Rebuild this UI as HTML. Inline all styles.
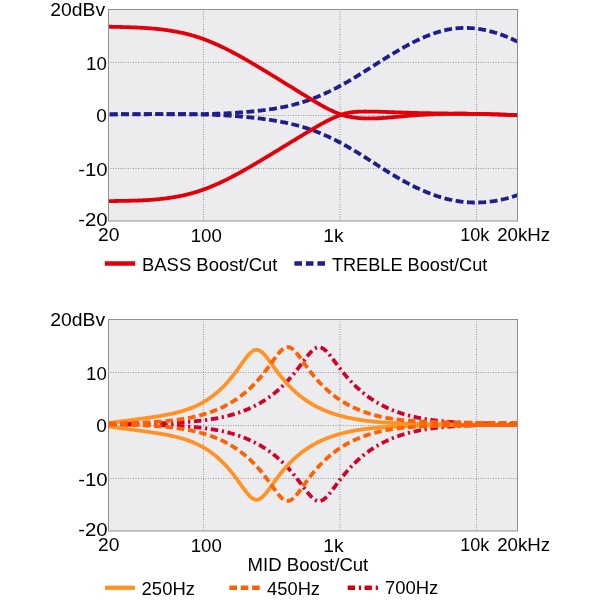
<!DOCTYPE html>
<html><head><meta charset="utf-8"><style>
html,body{margin:0;padding:0;background:#fff;}
svg{display:block;will-change:transform;}
text{font-family:"Liberation Sans",sans-serif;font-size:19px;fill:#000;}
.g{stroke:#9a9a9a;stroke-width:1;stroke-dasharray:1 1.5;stroke-dashoffset:1;}
.c{fill:none;stroke-width:3.8;stroke-linejoin:round;}
</style></head><body>
<svg width="600" height="600" viewBox="0 0 600 600">
<g transform="translate(0,0)">
<rect x="108.5" y="9.5" width="409" height="211.5" fill="#ececef"/>
<line x1="109" y1="62.5" x2="517" y2="62.5" class="g"/>
<line x1="109" y1="115.5" x2="517" y2="115.5" class="g"/>
<line x1="109" y1="168.5" x2="517" y2="168.5" class="g"/>
<line x1="203.5" y1="10" x2="203.5" y2="220.5" class="g"/>
<line x1="340" y1="10" x2="340" y2="220.5" class="g"/>
<line x1="476.5" y1="10" x2="476.5" y2="220.5" class="g"/>
<path d="M108.5,114.37 L109.5,114.35 L110.5,114.33 L111.5,114.31 L112.5,114.29 L113.5,114.28 L114.5,114.26 L115.5,114.24 L116.5,114.23 L117.5,114.22 L118.5,114.2 L119.5,114.19 L120.5,114.18 L121.5,114.17 L122.5,114.16 L123.5,114.15 L124.5,114.15 L125.5,114.14 L126.5,114.13 L127.5,114.13 L128.5,114.12 L129.5,114.12 L130.5,114.12 L131.5,114.11 L132.5,114.11 L133.5,114.11 L134.5,114.11 L135.5,114.11 L136.5,114.11 L137.5,114.11 L138.5,114.11 L139.5,114.11 L140.5,114.12 L141.5,114.12 L142.5,114.12 L143.5,114.12 L144.5,114.13 L145.5,114.13 L146.5,114.14 L147.5,114.14 L148.5,114.14 L149.5,114.15 L150.5,114.15 L151.5,114.16 L152.5,114.16 L153.5,114.17 L154.5,114.18 L155.5,114.18 L156.5,114.19 L157.5,114.19 L158.5,114.2 L159.5,114.2 L160.5,114.21 L161.5,114.21 L162.5,114.22 L163.5,114.23 L164.5,114.23 L165.5,114.24 L166.5,114.24 L167.5,114.24 L168.5,114.25 L169.5,114.25 L170.5,114.26 L171.5,114.26 L172.5,114.26 L173.5,114.27 L174.5,114.27 L175.5,114.27 L176.5,114.27 L177.5,114.27 L178.5,114.27 L179.5,114.28 L180.5,114.27 L181.5,114.27 L182.5,114.27 L183.5,114.27 L184.5,114.27 L185.5,114.27 L186.5,114.26 L187.5,114.26 L188.5,114.25 L189.5,114.25 L190.5,114.24 L191.5,114.23 L192.5,114.22 L193.5,114.22 L194.5,114.21 L195.5,114.19 L196.5,114.18 L197.5,114.17 L198.5,114.16 L199.5,114.14 L200.5,114.13 L201.5,114.11 L202.5,114.09 L203.5,114.08 L204.5,114.06 L205.5,114.04 L206.5,114.01 L207.5,113.99 L208.5,113.97 L209.5,113.94 L210.5,113.92 L211.5,113.89 L212.5,113.86 L213.5,113.83 L214.5,113.8 L215.5,113.77 L216.5,113.73 L217.5,113.7 L218.5,113.66 L219.5,113.62 L220.5,113.58 L221.5,113.54 L222.5,113.5 L223.5,113.45 L224.5,113.41 L225.5,113.36 L226.5,113.31 L227.5,113.26 L228.5,113.21 L229.5,113.15 L230.5,113.1 L231.5,113.04 L232.5,112.98 L233.5,112.92 L234.5,112.86 L235.5,112.8 L236.5,112.73 L237.5,112.66 L238.5,112.59 L239.5,112.52 L240.5,112.45 L241.5,112.37 L242.5,112.3 L243.5,112.22 L244.5,112.13 L245.5,112.05 L246.5,111.97 L247.5,111.88 L248.5,111.79 L249.5,111.7 L250.5,111.6 L251.5,111.51 L252.5,111.41 L253.5,111.31 L254.5,111.21 L255.5,111.1 L256.5,111 L257.5,110.89 L258.5,110.77 L259.5,110.66 L260.5,110.54 L261.5,110.42 L262.5,110.3 L263.5,110.18 L264.5,110.05 L265.5,109.92 L266.5,109.79 L267.5,109.66 L268.5,109.52 L269.5,109.38 L270.5,109.23 L271.5,109.08 L272.5,108.93 L273.5,108.78 L274.5,108.62 L275.5,108.46 L276.5,108.29 L277.5,108.12 L278.5,107.94 L279.5,107.76 L280.5,107.58 L281.5,107.39 L282.5,107.2 L283.5,107 L284.5,106.8 L285.5,106.59 L286.5,106.37 L287.5,106.16 L288.5,105.93 L289.5,105.7 L290.5,105.47 L291.5,105.23 L292.5,104.98 L293.5,104.73 L294.5,104.47 L295.5,104.21 L296.5,103.94 L297.5,103.66 L298.5,103.38 L299.5,103.09 L300.5,102.79 L301.5,102.49 L302.5,102.18 L303.5,101.86 L304.5,101.54 L305.5,101.21 L306.5,100.87 L307.5,100.53 L308.5,100.18 L309.5,99.82 L310.5,99.46 L311.5,99.09 L312.5,98.71 L313.5,98.33 L314.5,97.94 L315.5,97.55 L316.5,97.15 L317.5,96.74 L318.5,96.33 L319.5,95.91 L320.5,95.48 L321.5,95.05 L322.5,94.61 L323.5,94.17 L324.5,93.72 L325.5,93.26 L326.5,92.8 L327.5,92.33 L328.5,91.86 L329.5,91.38 L330.5,90.89 L331.5,90.4 L332.5,89.9 L333.5,89.4 L334.5,88.89 L335.5,88.37 L336.5,87.85 L337.5,87.33 L338.5,86.79 L339.5,86.26 L340.5,85.71 L341.5,85.17 L342.5,84.61 L343.5,84.05 L344.5,83.49 L345.5,82.92 L346.5,82.35 L347.5,81.77 L348.5,81.19 L349.5,80.61 L350.5,80.02 L351.5,79.42 L352.5,78.83 L353.5,78.23 L354.5,77.62 L355.5,77.02 L356.5,76.41 L357.5,75.8 L358.5,75.18 L359.5,74.57 L360.5,73.95 L361.5,73.33 L362.5,72.7 L363.5,72.08 L364.5,71.45 L365.5,70.82 L366.5,70.19 L367.5,69.56 L368.5,68.93 L369.5,68.3 L370.5,67.67 L371.5,67.03 L372.5,66.4 L373.5,65.77 L374.5,65.13 L375.5,64.5 L376.5,63.87 L377.5,63.23 L378.5,62.6 L379.5,61.97 L380.5,61.34 L381.5,60.71 L382.5,60.08 L383.5,59.45 L384.5,58.83 L385.5,58.21 L386.5,57.59 L387.5,56.97 L388.5,56.35 L389.5,55.74 L390.5,55.12 L391.5,54.51 L392.5,53.91 L393.5,53.31 L394.5,52.71 L395.5,52.11 L396.5,51.52 L397.5,50.93 L398.5,50.34 L399.5,49.76 L400.5,49.18 L401.5,48.61 L402.5,48.04 L403.5,47.48 L404.5,46.92 L405.5,46.37 L406.5,45.82 L407.5,45.28 L408.5,44.74 L409.5,44.21 L410.5,43.68 L411.5,43.16 L412.5,42.65 L413.5,42.14 L414.5,41.64 L415.5,41.14 L416.5,40.66 L417.5,40.18 L418.5,39.7 L419.5,39.23 L420.5,38.77 L421.5,38.32 L422.5,37.88 L423.5,37.44 L424.5,37.01 L425.5,36.59 L426.5,36.17 L427.5,35.77 L428.5,35.37 L429.5,34.99 L430.5,34.61 L431.5,34.24 L432.5,33.88 L433.5,33.52 L434.5,33.18 L435.5,32.85 L436.5,32.53 L437.5,32.21 L438.5,31.91 L439.5,31.62 L440.5,31.33 L441.5,31.06 L442.5,30.8 L443.5,30.55 L444.5,30.31 L445.5,30.08 L446.5,29.86 L447.5,29.65 L448.5,29.46 L449.5,29.27 L450.5,29.1 L451.5,28.94 L452.5,28.8 L453.5,28.66 L454.5,28.53 L455.5,28.42 L456.5,28.32 L457.5,28.23 L458.5,28.15 L459.5,28.08 L460.5,28.03 L461.5,27.98 L462.5,27.95 L463.5,27.93 L464.5,27.92 L465.5,27.92 L466.5,27.93 L467.5,27.95 L468.5,27.98 L469.5,28.03 L470.5,28.08 L471.5,28.14 L472.5,28.22 L473.5,28.31 L474.5,28.4 L475.5,28.51 L476.5,28.63 L477.5,28.75 L478.5,28.89 L479.5,29.04 L480.5,29.2 L481.5,29.37 L482.5,29.54 L483.5,29.73 L484.5,29.93 L485.5,30.14 L486.5,30.36 L487.5,30.58 L488.5,30.82 L489.5,31.07 L490.5,31.33 L491.5,31.59 L492.5,31.87 L493.5,32.15 L494.5,32.45 L495.5,32.75 L496.5,33.06 L497.5,33.38 L498.5,33.71 L499.5,34.05 L500.5,34.4 L501.5,34.76 L502.5,35.13 L503.5,35.5 L504.5,35.89 L505.5,36.28 L506.5,36.68 L507.5,37.09 L508.5,37.51 L509.5,37.94 L510.5,38.37 L511.5,38.81 L512.5,39.27 L513.5,39.73 L514.5,40.19 L515.5,40.67 L516.5,41.15 L517.5,41.65" class="c" stroke="#1e1e8c" stroke-dasharray="7.9 3.5" stroke-dashoffset="10.2"/>
<path d="M108.5,114.34 L109.5,114.34 L110.5,114.35 L111.5,114.35 L112.5,114.36 L113.5,114.36 L114.5,114.36 L115.5,114.36 L116.5,114.36 L117.5,114.37 L118.5,114.37 L119.5,114.37 L120.5,114.37 L121.5,114.36 L122.5,114.36 L123.5,114.36 L124.5,114.36 L125.5,114.36 L126.5,114.35 L127.5,114.35 L128.5,114.34 L129.5,114.34 L130.5,114.34 L131.5,114.33 L132.5,114.33 L133.5,114.32 L134.5,114.32 L135.5,114.31 L136.5,114.3 L137.5,114.3 L138.5,114.29 L139.5,114.29 L140.5,114.28 L141.5,114.27 L142.5,114.27 L143.5,114.26 L144.5,114.25 L145.5,114.25 L146.5,114.24 L147.5,114.23 L148.5,114.23 L149.5,114.22 L150.5,114.21 L151.5,114.21 L152.5,114.2 L153.5,114.2 L154.5,114.19 L155.5,114.18 L156.5,114.18 L157.5,114.17 L158.5,114.17 L159.5,114.16 L160.5,114.16 L161.5,114.16 L162.5,114.15 L163.5,114.15 L164.5,114.15 L165.5,114.14 L166.5,114.14 L167.5,114.14 L168.5,114.14 L169.5,114.14 L170.5,114.14 L171.5,114.14 L172.5,114.14 L173.5,114.14 L174.5,114.14 L175.5,114.14 L176.5,114.15 L177.5,114.15 L178.5,114.15 L179.5,114.16 L180.5,114.17 L181.5,114.17 L182.5,114.18 L183.5,114.19 L184.5,114.2 L185.5,114.21 L186.5,114.22 L187.5,114.23 L188.5,114.24 L189.5,114.25 L190.5,114.27 L191.5,114.28 L192.5,114.3 L193.5,114.31 L194.5,114.33 L195.5,114.35 L196.5,114.37 L197.5,114.39 L198.5,114.41 L199.5,114.43 L200.5,114.46 L201.5,114.48 L202.5,114.51 L203.5,114.53 L204.5,114.56 L205.5,114.59 L206.5,114.62 L207.5,114.65 L208.5,114.69 L209.5,114.72 L210.5,114.76 L211.5,114.79 L212.5,114.83 L213.5,114.87 L214.5,114.91 L215.5,114.95 L216.5,115 L217.5,115.04 L218.5,115.09 L219.5,115.14 L220.5,115.19 L221.5,115.24 L222.5,115.29 L223.5,115.34 L224.5,115.4 L225.5,115.46 L226.5,115.52 L227.5,115.58 L228.5,115.64 L229.5,115.7 L230.5,115.77 L231.5,115.83 L232.5,115.9 L233.5,115.97 L234.5,116.05 L235.5,116.12 L236.5,116.2 L237.5,116.27 L238.5,116.35 L239.5,116.43 L240.5,116.52 L241.5,116.6 L242.5,116.69 L243.5,116.78 L244.5,116.87 L245.5,116.96 L246.5,117.06 L247.5,117.15 L248.5,117.25 L249.5,117.35 L250.5,117.46 L251.5,117.56 L252.5,117.67 L253.5,117.78 L254.5,117.89 L255.5,118 L256.5,118.12 L257.5,118.24 L258.5,118.36 L259.5,118.48 L260.5,118.61 L261.5,118.73 L262.5,118.86 L263.5,119 L264.5,119.13 L265.5,119.27 L266.5,119.41 L267.5,119.55 L268.5,119.69 L269.5,119.84 L270.5,119.99 L271.5,120.15 L272.5,120.3 L273.5,120.47 L274.5,120.63 L275.5,120.8 L276.5,120.97 L277.5,121.14 L278.5,121.32 L279.5,121.5 L280.5,121.69 L281.5,121.88 L282.5,122.07 L283.5,122.27 L284.5,122.47 L285.5,122.68 L286.5,122.89 L287.5,123.1 L288.5,123.32 L289.5,123.55 L290.5,123.78 L291.5,124.01 L292.5,124.25 L293.5,124.49 L294.5,124.74 L295.5,124.99 L296.5,125.25 L297.5,125.52 L298.5,125.79 L299.5,126.06 L300.5,126.34 L301.5,126.63 L302.5,126.92 L303.5,127.22 L304.5,127.52 L305.5,127.83 L306.5,128.15 L307.5,128.47 L308.5,128.8 L309.5,129.14 L310.5,129.48 L311.5,129.82 L312.5,130.18 L313.5,130.54 L314.5,130.91 L315.5,131.28 L316.5,131.66 L317.5,132.05 L318.5,132.45 L319.5,132.85 L320.5,133.26 L321.5,133.67 L322.5,134.1 L323.5,134.53 L324.5,134.96 L325.5,135.41 L326.5,135.86 L327.5,136.31 L328.5,136.77 L329.5,137.24 L330.5,137.72 L331.5,138.2 L332.5,138.68 L333.5,139.17 L334.5,139.67 L335.5,140.18 L336.5,140.69 L337.5,141.2 L338.5,141.72 L339.5,142.25 L340.5,142.78 L341.5,143.32 L342.5,143.86 L343.5,144.41 L344.5,144.97 L345.5,145.53 L346.5,146.09 L347.5,146.66 L348.5,147.23 L349.5,147.81 L350.5,148.39 L351.5,148.98 L352.5,149.57 L353.5,150.17 L354.5,150.77 L355.5,151.38 L356.5,151.98 L357.5,152.6 L358.5,153.21 L359.5,153.83 L360.5,154.45 L361.5,155.07 L362.5,155.7 L363.5,156.33 L364.5,156.96 L365.5,157.59 L366.5,158.22 L367.5,158.86 L368.5,159.49 L369.5,160.13 L370.5,160.77 L371.5,161.41 L372.5,162.05 L373.5,162.69 L374.5,163.33 L375.5,163.97 L376.5,164.6 L377.5,165.24 L378.5,165.88 L379.5,166.52 L380.5,167.15 L381.5,167.79 L382.5,168.42 L383.5,169.05 L384.5,169.68 L385.5,170.3 L386.5,170.93 L387.5,171.55 L388.5,172.17 L389.5,172.79 L390.5,173.4 L391.5,174.01 L392.5,174.61 L393.5,175.21 L394.5,175.81 L395.5,176.41 L396.5,177 L397.5,177.58 L398.5,178.16 L399.5,178.73 L400.5,179.3 L401.5,179.87 L402.5,180.43 L403.5,180.98 L404.5,181.53 L405.5,182.08 L406.5,182.62 L407.5,183.15 L408.5,183.68 L409.5,184.2 L410.5,184.71 L411.5,185.22 L412.5,185.73 L413.5,186.22 L414.5,186.72 L415.5,187.2 L416.5,187.68 L417.5,188.16 L418.5,188.62 L419.5,189.08 L420.5,189.54 L421.5,189.99 L422.5,190.43 L423.5,190.86 L424.5,191.29 L425.5,191.71 L426.5,192.12 L427.5,192.53 L428.5,192.93 L429.5,193.32 L430.5,193.71 L431.5,194.08 L432.5,194.45 L433.5,194.82 L434.5,195.17 L435.5,195.52 L436.5,195.86 L437.5,196.19 L438.5,196.52 L439.5,196.83 L440.5,197.14 L441.5,197.44 L442.5,197.73 L443.5,198.02 L444.5,198.29 L445.5,198.56 L446.5,198.82 L447.5,199.07 L448.5,199.31 L449.5,199.54 L450.5,199.77 L451.5,199.98 L452.5,200.19 L453.5,200.39 L454.5,200.58 L455.5,200.76 L456.5,200.93 L457.5,201.09 L458.5,201.25 L459.5,201.39 L460.5,201.53 L461.5,201.66 L462.5,201.78 L463.5,201.89 L464.5,201.99 L465.5,202.08 L466.5,202.17 L467.5,202.25 L468.5,202.31 L469.5,202.37 L470.5,202.42 L471.5,202.46 L472.5,202.49 L473.5,202.52 L474.5,202.53 L475.5,202.54 L476.5,202.54 L477.5,202.53 L478.5,202.51 L479.5,202.48 L480.5,202.44 L481.5,202.4 L482.5,202.35 L483.5,202.28 L484.5,202.21 L485.5,202.13 L486.5,202.05 L487.5,201.95 L488.5,201.84 L489.5,201.73 L490.5,201.61 L491.5,201.48 L492.5,201.34 L493.5,201.19 L494.5,201.03 L495.5,200.87 L496.5,200.7 L497.5,200.51 L498.5,200.32 L499.5,200.12 L500.5,199.92 L501.5,199.7 L502.5,199.48 L503.5,199.24 L504.5,199 L505.5,198.75 L506.5,198.49 L507.5,198.23 L508.5,197.95 L509.5,197.67 L510.5,197.38 L511.5,197.08 L512.5,196.77 L513.5,196.45 L514.5,196.12 L515.5,195.79 L516.5,195.45 L517.5,195.1" class="c" stroke="#1e1e8c" stroke-dasharray="7.9 3.5" stroke-dashoffset="10.2"/>
<path d="M108.5,201.11 L109.5,201.1 L110.5,201.08 L111.5,201.07 L112.5,201.05 L113.5,201.04 L114.5,201.02 L115.5,201.01 L116.5,201 L117.5,200.98 L118.5,200.97 L119.5,200.95 L120.5,200.94 L121.5,200.92 L122.5,200.91 L123.5,200.89 L124.5,200.87 L125.5,200.85 L126.5,200.83 L127.5,200.81 L128.5,200.79 L129.5,200.77 L130.5,200.75 L131.5,200.72 L132.5,200.69 L133.5,200.66 L134.5,200.63 L135.5,200.6 L136.5,200.57 L137.5,200.53 L138.5,200.5 L139.5,200.46 L140.5,200.41 L141.5,200.37 L142.5,200.32 L143.5,200.27 L144.5,200.22 L145.5,200.17 L146.5,200.11 L147.5,200.05 L148.5,199.99 L149.5,199.92 L150.5,199.86 L151.5,199.78 L152.5,199.71 L153.5,199.63 L154.5,199.55 L155.5,199.46 L156.5,199.38 L157.5,199.28 L158.5,199.19 L159.5,199.09 L160.5,198.98 L161.5,198.88 L162.5,198.76 L163.5,198.65 L164.5,198.53 L165.5,198.4 L166.5,198.27 L167.5,198.14 L168.5,198 L169.5,197.86 L170.5,197.71 L171.5,197.56 L172.5,197.4 L173.5,197.23 L174.5,197.07 L175.5,196.89 L176.5,196.71 L177.5,196.53 L178.5,196.34 L179.5,196.14 L180.5,195.94 L181.5,195.74 L182.5,195.52 L183.5,195.3 L184.5,195.08 L185.5,194.85 L186.5,194.61 L187.5,194.37 L188.5,194.12 L189.5,193.86 L190.5,193.6 L191.5,193.33 L192.5,193.05 L193.5,192.77 L194.5,192.48 L195.5,192.18 L196.5,191.88 L197.5,191.57 L198.5,191.25 L199.5,190.92 L200.5,190.59 L201.5,190.25 L202.5,189.9 L203.5,189.54 L204.5,189.18 L205.5,188.81 L206.5,188.43 L207.5,188.05 L208.5,187.66 L209.5,187.26 L210.5,186.86 L211.5,186.45 L212.5,186.03 L213.5,185.61 L214.5,185.18 L215.5,184.75 L216.5,184.31 L217.5,183.86 L218.5,183.41 L219.5,182.95 L220.5,182.49 L221.5,182.02 L222.5,181.55 L223.5,181.07 L224.5,180.59 L225.5,180.1 L226.5,179.6 L227.5,179.11 L228.5,178.6 L229.5,178.1 L230.5,177.58 L231.5,177.07 L232.5,176.55 L233.5,176.02 L234.5,175.49 L235.5,174.96 L236.5,174.43 L237.5,173.89 L238.5,173.34 L239.5,172.79 L240.5,172.24 L241.5,171.69 L242.5,171.13 L243.5,170.57 L244.5,170.01 L245.5,169.45 L246.5,168.88 L247.5,168.31 L248.5,167.73 L249.5,167.16 L250.5,166.58 L251.5,166 L252.5,165.41 L253.5,164.83 L254.5,164.24 L255.5,163.65 L256.5,163.06 L257.5,162.47 L258.5,161.88 L259.5,161.28 L260.5,160.69 L261.5,160.09 L262.5,159.49 L263.5,158.89 L264.5,158.29 L265.5,157.69 L266.5,157.09 L267.5,156.49 L268.5,155.88 L269.5,155.28 L270.5,154.67 L271.5,154.06 L272.5,153.46 L273.5,152.85 L274.5,152.24 L275.5,151.63 L276.5,151.02 L277.5,150.41 L278.5,149.8 L279.5,149.19 L280.5,148.58 L281.5,147.97 L282.5,147.35 L283.5,146.74 L284.5,146.13 L285.5,145.52 L286.5,144.91 L287.5,144.3 L288.5,143.68 L289.5,143.07 L290.5,142.46 L291.5,141.85 L292.5,141.24 L293.5,140.63 L294.5,140.02 L295.5,139.41 L296.5,138.8 L297.5,138.19 L298.5,137.59 L299.5,136.98 L300.5,136.37 L301.5,135.76 L302.5,135.16 L303.5,134.55 L304.5,133.95 L305.5,133.35 L306.5,132.74 L307.5,132.14 L308.5,131.54 L309.5,130.94 L310.5,130.34 L311.5,129.75 L312.5,129.15 L313.5,128.56 L314.5,127.97 L315.5,127.38 L316.5,126.79 L317.5,126.21 L318.5,125.64 L319.5,125.07 L320.5,124.5 L321.5,123.95 L322.5,123.39 L323.5,122.85 L324.5,122.31 L325.5,121.78 L326.5,121.26 L327.5,120.75 L328.5,120.25 L329.5,119.75 L330.5,119.27 L331.5,118.8 L332.5,118.33 L333.5,117.84 L334.5,117.37 L335.5,116.97 L336.5,116.58 L337.5,116.15 L338.5,115.73 L339.5,115.33 L340.5,114.95 L341.5,114.59 L342.5,114.26 L343.5,113.96 L344.5,113.69 L345.5,113.44 L346.5,113.21 L347.5,113 L348.5,112.8 L349.5,112.62 L350.5,112.46 L351.5,112.32 L352.5,112.19 L353.5,112.07 L354.5,111.97 L355.5,111.88 L356.5,111.8 L357.5,111.73 L358.5,111.68 L359.5,111.63 L360.5,111.59 L361.5,111.57 L362.5,111.55 L363.5,111.53 L364.5,111.52 L365.5,111.52 L366.5,111.53 L367.5,111.53 L368.5,111.54 L369.5,111.56 L370.5,111.57 L371.5,111.59 L372.5,111.61 L373.5,111.63 L374.5,111.65 L375.5,111.67 L376.5,111.7 L377.5,111.72 L378.5,111.75 L379.5,111.77 L380.5,111.8 L381.5,111.83 L382.5,111.86 L383.5,111.89 L384.5,111.92 L385.5,111.96 L386.5,111.99 L387.5,112.02 L388.5,112.06 L389.5,112.09 L390.5,112.13 L391.5,112.16 L392.5,112.2 L393.5,112.23 L394.5,112.27 L395.5,112.3 L396.5,112.34 L397.5,112.38 L398.5,112.41 L399.5,112.45 L400.5,112.48 L401.5,112.52 L402.5,112.55 L403.5,112.59 L404.5,112.62 L405.5,112.66 L406.5,112.69 L407.5,112.72 L408.5,112.75 L409.5,112.78 L410.5,112.81 L411.5,112.84 L412.5,112.87 L413.5,112.9 L414.5,112.93 L415.5,112.95 L416.5,112.98 L417.5,113.01 L418.5,113.03 L419.5,113.05 L420.5,113.08 L421.5,113.1 L422.5,113.12 L423.5,113.14 L424.5,113.16 L425.5,113.18 L426.5,113.2 L427.5,113.22 L428.5,113.24 L429.5,113.26 L430.5,113.27 L431.5,113.29 L432.5,113.31 L433.5,113.33 L434.5,113.34 L435.5,113.36 L436.5,113.37 L437.5,113.39 L438.5,113.4 L439.5,113.42 L440.5,113.43 L441.5,113.44 L442.5,113.46 L443.5,113.47 L444.5,113.48 L445.5,113.5 L446.5,113.51 L447.5,113.52 L448.5,113.54 L449.5,113.55 L450.5,113.56 L451.5,113.57 L452.5,113.59 L453.5,113.6 L454.5,113.61 L455.5,113.62 L456.5,113.64 L457.5,113.65 L458.5,113.66 L459.5,113.67 L460.5,113.69 L461.5,113.7 L462.5,113.71 L463.5,113.73 L464.5,113.74 L465.5,113.76 L466.5,113.77 L467.5,113.78 L468.5,113.8 L469.5,113.81 L470.5,113.83 L471.5,113.84 L472.5,113.86 L473.5,113.88 L474.5,113.89 L475.5,113.91 L476.5,113.93 L477.5,113.95 L478.5,113.96 L479.5,113.98 L480.5,114 L481.5,114.02 L482.5,114.04 L483.5,114.06 L484.5,114.09 L485.5,114.11 L486.5,114.13 L487.5,114.16 L488.5,114.18 L489.5,114.2 L490.5,114.23 L491.5,114.26 L492.5,114.28 L493.5,114.31 L494.5,114.34 L495.5,114.37 L496.5,114.4 L497.5,114.43 L498.5,114.46 L499.5,114.5 L500.5,114.53 L501.5,114.56 L502.5,114.6 L503.5,114.64 L504.5,114.67 L505.5,114.71 L506.5,114.75 L507.5,114.79 L508.5,114.83 L509.5,114.88 L510.5,114.92 L511.5,114.96 L512.5,115.01 L513.5,115.06 L514.5,115.11 L515.5,115.16 L516.5,115.21 L517.5,115.26" class="c" stroke="#e1000a"/>
<path d="M108.5,26.69 L109.5,26.72 L110.5,26.74 L111.5,26.77 L112.5,26.79 L113.5,26.82 L114.5,26.84 L115.5,26.86 L116.5,26.89 L117.5,26.91 L118.5,26.94 L119.5,26.96 L120.5,26.99 L121.5,27.01 L122.5,27.04 L123.5,27.07 L124.5,27.1 L125.5,27.12 L126.5,27.15 L127.5,27.18 L128.5,27.22 L129.5,27.25 L130.5,27.28 L131.5,27.32 L132.5,27.35 L133.5,27.39 L134.5,27.43 L135.5,27.47 L136.5,27.52 L137.5,27.56 L138.5,27.61 L139.5,27.66 L140.5,27.71 L141.5,27.76 L142.5,27.82 L143.5,27.88 L144.5,27.94 L145.5,28 L146.5,28.07 L147.5,28.14 L148.5,28.21 L149.5,28.28 L150.5,28.36 L151.5,28.44 L152.5,28.53 L153.5,28.61 L154.5,28.7 L155.5,28.8 L156.5,28.89 L157.5,29 L158.5,29.1 L159.5,29.21 L160.5,29.32 L161.5,29.44 L162.5,29.56 L163.5,29.68 L164.5,29.81 L165.5,29.95 L166.5,30.08 L167.5,30.22 L168.5,30.37 L169.5,30.52 L170.5,30.68 L171.5,30.84 L172.5,31.01 L173.5,31.18 L174.5,31.35 L175.5,31.53 L176.5,31.72 L177.5,31.91 L178.5,32.11 L179.5,32.31 L180.5,32.52 L181.5,32.74 L182.5,32.96 L183.5,33.18 L184.5,33.41 L185.5,33.65 L186.5,33.9 L187.5,34.15 L188.5,34.4 L189.5,34.67 L190.5,34.94 L191.5,35.21 L192.5,35.5 L193.5,35.79 L194.5,36.08 L195.5,36.39 L196.5,36.7 L197.5,37.02 L198.5,37.34 L199.5,37.67 L200.5,38.01 L201.5,38.36 L202.5,38.72 L203.5,39.08 L204.5,39.45 L205.5,39.82 L206.5,40.21 L207.5,40.59 L208.5,40.99 L209.5,41.39 L210.5,41.8 L211.5,42.22 L212.5,42.64 L213.5,43.07 L214.5,43.5 L215.5,43.94 L216.5,44.39 L217.5,44.84 L218.5,45.29 L219.5,45.76 L220.5,46.22 L221.5,46.7 L222.5,47.18 L223.5,47.66 L224.5,48.15 L225.5,48.64 L226.5,49.14 L227.5,49.64 L228.5,50.15 L229.5,50.66 L230.5,51.18 L231.5,51.7 L232.5,52.22 L233.5,52.75 L234.5,53.29 L235.5,53.82 L236.5,54.36 L237.5,54.91 L238.5,55.46 L239.5,56.01 L240.5,56.56 L241.5,57.12 L242.5,57.68 L243.5,58.25 L244.5,58.81 L245.5,59.38 L246.5,59.96 L247.5,60.53 L248.5,61.11 L249.5,61.69 L250.5,62.27 L251.5,62.86 L252.5,63.45 L253.5,64.04 L254.5,64.63 L255.5,65.22 L256.5,65.82 L257.5,66.41 L258.5,67.01 L259.5,67.61 L260.5,68.21 L261.5,68.81 L262.5,69.42 L263.5,70.02 L264.5,70.63 L265.5,71.23 L266.5,71.84 L267.5,72.45 L268.5,73.06 L269.5,73.67 L270.5,74.28 L271.5,74.89 L272.5,75.5 L273.5,76.12 L274.5,76.73 L275.5,77.35 L276.5,77.96 L277.5,78.58 L278.5,79.19 L279.5,79.81 L280.5,80.43 L281.5,81.04 L282.5,81.66 L283.5,82.28 L284.5,82.9 L285.5,83.52 L286.5,84.14 L287.5,84.75 L288.5,85.37 L289.5,85.99 L290.5,86.61 L291.5,87.23 L292.5,87.85 L293.5,88.47 L294.5,89.09 L295.5,89.7 L296.5,90.32 L297.5,90.94 L298.5,91.56 L299.5,92.17 L300.5,92.79 L301.5,93.4 L302.5,94.02 L303.5,94.63 L304.5,95.24 L305.5,95.86 L306.5,96.47 L307.5,97.08 L308.5,97.69 L309.5,98.3 L310.5,98.9 L311.5,99.51 L312.5,100.11 L313.5,100.72 L314.5,101.31 L315.5,101.91 L316.5,102.5 L317.5,103.09 L318.5,103.67 L319.5,104.25 L320.5,104.82 L321.5,105.39 L322.5,105.94 L323.5,106.5 L324.5,107.04 L325.5,107.57 L326.5,108.1 L327.5,108.62 L328.5,109.12 L329.5,109.62 L330.5,110.11 L331.5,110.58 L332.5,111.05 L333.5,111.54 L334.5,112.01 L335.5,112.41 L336.5,112.79 L337.5,113.19 L338.5,113.59 L339.5,113.96 L340.5,114.32 L341.5,114.67 L342.5,114.99 L343.5,115.29 L344.5,115.58 L345.5,115.85 L346.5,116.1 L347.5,116.33 L348.5,116.56 L349.5,116.76 L350.5,116.96 L351.5,117.14 L352.5,117.3 L353.5,117.45 L354.5,117.59 L355.5,117.72 L356.5,117.84 L357.5,117.94 L358.5,118.04 L359.5,118.12 L360.5,118.2 L361.5,118.26 L362.5,118.31 L363.5,118.36 L364.5,118.4 L365.5,118.42 L366.5,118.45 L367.5,118.46 L368.5,118.47 L369.5,118.47 L370.5,118.46 L371.5,118.45 L372.5,118.43 L373.5,118.41 L374.5,118.38 L375.5,118.35 L376.5,118.32 L377.5,118.27 L378.5,118.23 L379.5,118.18 L380.5,118.12 L381.5,118.07 L382.5,118 L383.5,117.94 L384.5,117.87 L385.5,117.8 L386.5,117.73 L387.5,117.65 L388.5,117.57 L389.5,117.49 L390.5,117.41 L391.5,117.32 L392.5,117.24 L393.5,117.15 L394.5,117.06 L395.5,116.97 L396.5,116.88 L397.5,116.79 L398.5,116.69 L399.5,116.6 L400.5,116.51 L401.5,116.42 L402.5,116.33 L403.5,116.23 L404.5,116.14 L405.5,116.05 L406.5,115.96 L407.5,115.88 L408.5,115.79 L409.5,115.71 L410.5,115.63 L411.5,115.54 L412.5,115.47 L413.5,115.39 L414.5,115.32 L415.5,115.24 L416.5,115.17 L417.5,115.1 L418.5,115.04 L419.5,114.97 L420.5,114.91 L421.5,114.85 L422.5,114.79 L423.5,114.73 L424.5,114.68 L425.5,114.62 L426.5,114.57 L427.5,114.52 L428.5,114.47 L429.5,114.42 L430.5,114.38 L431.5,114.33 L432.5,114.29 L433.5,114.25 L434.5,114.21 L435.5,114.18 L436.5,114.14 L437.5,114.11 L438.5,114.08 L439.5,114.05 L440.5,114.02 L441.5,113.99 L442.5,113.96 L443.5,113.94 L444.5,113.92 L445.5,113.89 L446.5,113.87 L447.5,113.86 L448.5,113.84 L449.5,113.82 L450.5,113.81 L451.5,113.8 L452.5,113.78 L453.5,113.77 L454.5,113.77 L455.5,113.76 L456.5,113.75 L457.5,113.75 L458.5,113.74 L459.5,113.74 L460.5,113.74 L461.5,113.74 L462.5,113.74 L463.5,113.74 L464.5,113.75 L465.5,113.75 L466.5,113.76 L467.5,113.77 L468.5,113.78 L469.5,113.78 L470.5,113.8 L471.5,113.81 L472.5,113.82 L473.5,113.83 L474.5,113.85 L475.5,113.87 L476.5,113.88 L477.5,113.9 L478.5,113.92 L479.5,113.94 L480.5,113.96 L481.5,113.98 L482.5,114 L483.5,114.03 L484.5,114.05 L485.5,114.08 L486.5,114.11 L487.5,114.13 L488.5,114.16 L489.5,114.19 L490.5,114.22 L491.5,114.25 L492.5,114.28 L493.5,114.31 L494.5,114.35 L495.5,114.38 L496.5,114.41 L497.5,114.45 L498.5,114.48 L499.5,114.52 L500.5,114.56 L501.5,114.6 L502.5,114.63 L503.5,114.67 L504.5,114.71 L505.5,114.75 L506.5,114.79 L507.5,114.83 L508.5,114.88 L509.5,114.92 L510.5,114.96 L511.5,115 L512.5,115.05 L513.5,115.09 L514.5,115.14 L515.5,115.18 L516.5,115.23 L517.5,115.27" class="c" stroke="#e1000a"/>
<rect x="108.5" y="9.5" width="409" height="211.5" fill="none" stroke="#909090" stroke-width="1"/>
<text x="50.16" y="16" textLength="54.92" lengthAdjust="spacingAndGlyphs">20dBv</text>
<text x="86.08" y="70.27" textLength="20.77" lengthAdjust="spacingAndGlyphs">10</text>
<text x="96.24" y="122.06" textLength="10.61" lengthAdjust="spacingAndGlyphs">0</text>
<text x="78.25" y="176.18" textLength="29.42" lengthAdjust="spacingAndGlyphs">-10</text>
<text x="78.25" y="226.12" textLength="29.42" lengthAdjust="spacingAndGlyphs">-20</text>
<text x="98.09" y="241.25" textLength="21.41" lengthAdjust="spacingAndGlyphs">20</text>
<text x="190.68" y="241.85" textLength="31.13" lengthAdjust="spacingAndGlyphs">100</text>
<text x="323.37" y="241.75" textLength="20.33" lengthAdjust="spacingAndGlyphs">1k</text>
<text x="460.34" y="241.25" textLength="29.06" lengthAdjust="spacingAndGlyphs">10k</text>
<text x="497.19" y="241.3" textLength="53.00" lengthAdjust="spacingAndGlyphs">20kHz</text>
</g>
<line x1="104.8" y1="263.5" x2="135.2" y2="263.5" stroke="#e1000a" stroke-width="4.5"/>
<text x="141.94" y="271.25" textLength="135.46" lengthAdjust="spacingAndGlyphs">BASS Boost/Cut</text>
<line x1="294.4" y1="263.5" x2="325.2" y2="263.5" stroke="#1e1e8c" stroke-width="4.5" stroke-dasharray="7.6 3.9"/>
<text x="331.91" y="271.25" textLength="155.44" lengthAdjust="spacingAndGlyphs">TREBLE Boost/Cut</text>
<g transform="translate(0,310)">
<rect x="108.5" y="9.5" width="409" height="211.5" fill="#ececef"/>
<line x1="109" y1="62.5" x2="517" y2="62.5" class="g"/>
<line x1="109" y1="115.5" x2="517" y2="115.5" class="g"/>
<line x1="109" y1="168.5" x2="517" y2="168.5" class="g"/>
<line x1="203.5" y1="10" x2="203.5" y2="220.5" class="g"/>
<line x1="340" y1="10" x2="340" y2="220.5" class="g"/>
<line x1="476.5" y1="10" x2="476.5" y2="220.5" class="g"/>
<path d="M108.5,114.03 L109.5,114.03 L110.5,114.02 L111.5,114.02 L112.5,114.01 L113.5,114 L114.5,114 L115.5,113.99 L116.5,113.98 L117.5,113.98 L118.5,113.97 L119.5,113.96 L120.5,113.95 L121.5,113.94 L122.5,113.94 L123.5,113.93 L124.5,113.92 L125.5,113.91 L126.5,113.9 L127.5,113.89 L128.5,113.88 L129.5,113.87 L130.5,113.85 L131.5,113.84 L132.5,113.83 L133.5,113.82 L134.5,113.8 L135.5,113.79 L136.5,113.78 L137.5,113.76 L138.5,113.75 L139.5,113.73 L140.5,113.72 L141.5,113.7 L142.5,113.68 L143.5,113.66 L144.5,113.65 L145.5,113.63 L146.5,113.61 L147.5,113.59 L148.5,113.57 L149.5,113.55 L150.5,113.52 L151.5,113.5 L152.5,113.48 L153.5,113.45 L154.5,113.43 L155.5,113.4 L156.5,113.37 L157.5,113.34 L158.5,113.32 L159.5,113.29 L160.5,113.25 L161.5,113.22 L162.5,113.19 L163.5,113.16 L164.5,113.12 L165.5,113.08 L166.5,113.05 L167.5,113.01 L168.5,112.97 L169.5,112.93 L170.5,112.88 L171.5,112.84 L172.5,112.79 L173.5,112.74 L174.5,112.7 L175.5,112.65 L176.5,112.59 L177.5,112.54 L178.5,112.48 L179.5,112.43 L180.5,112.37 L181.5,112.31 L182.5,112.24 L183.5,112.18 L184.5,112.11 L185.5,112.04 L186.5,111.97 L187.5,111.89 L188.5,111.82 L189.5,111.74 L190.5,111.66 L191.5,111.57 L192.5,111.48 L193.5,111.39 L194.5,111.3 L195.5,111.21 L196.5,111.11 L197.5,111.01 L198.5,110.9 L199.5,110.79 L200.5,110.68 L201.5,110.56 L202.5,110.45 L203.5,110.32 L204.5,110.2 L205.5,110.07 L206.5,109.93 L207.5,109.79 L208.5,109.65 L209.5,109.51 L210.5,109.35 L211.5,109.2 L212.5,109.04 L213.5,108.87 L214.5,108.7 L215.5,108.53 L216.5,108.34 L217.5,108.16 L218.5,107.97 L219.5,107.77 L220.5,107.57 L221.5,107.36 L222.5,107.14 L223.5,106.92 L224.5,106.69 L225.5,106.46 L226.5,106.22 L227.5,105.97 L228.5,105.72 L229.5,105.45 L230.5,105.18 L231.5,104.91 L232.5,104.62 L233.5,104.33 L234.5,104.03 L235.5,103.72 L236.5,103.41 L237.5,103.08 L238.5,102.75 L239.5,102.4 L240.5,102.05 L241.5,101.69 L242.5,101.32 L243.5,100.94 L244.5,100.55 L245.5,100.15 L246.5,99.74 L247.5,99.32 L248.5,98.89 L249.5,98.44 L250.5,97.99 L251.5,97.53 L252.5,97.05 L253.5,96.56 L254.5,96.06 L255.5,95.55 L256.5,95.02 L257.5,94.48 L258.5,93.93 L259.5,93.37 L260.5,92.79 L261.5,92.2 L262.5,91.6 L263.5,90.98 L264.5,90.34 L265.5,89.69 L266.5,89.03 L267.5,88.35 L268.5,87.65 L269.5,86.94 L270.5,86.22 L271.5,85.47 L272.5,84.71 L273.5,83.93 L274.5,83.13 L275.5,82.32 L276.5,81.49 L277.5,80.63 L278.5,79.76 L279.5,78.87 L280.5,77.96 L281.5,77.03 L282.5,76.08 L283.5,75.1 L284.5,74.11 L285.5,73.09 L286.5,72.05 L287.5,70.99 L288.5,69.91 L289.5,68.81 L290.5,67.68 L291.5,66.53 L292.5,65.35 L293.5,64.16 L294.5,62.94 L295.5,61.71 L296.5,60.45 L297.5,59.17 L298.5,57.88 L299.5,56.57 L300.5,55.25 L301.5,53.92 L302.5,52.58 L303.5,51.25 L304.5,49.92 L305.5,48.6 L306.5,47.3 L307.5,46.02 L308.5,44.79 L309.5,43.6 L310.5,42.48 L311.5,41.43 L312.5,40.47 L313.5,39.61 L314.5,38.87 L315.5,38.26 L316.5,37.79 L317.5,37.47 L318.5,37.31 L319.5,37.31 L320.5,37.47 L321.5,37.79 L322.5,38.26 L323.5,38.87 L324.5,39.61 L325.5,40.47 L326.5,41.43 L327.5,42.48 L328.5,43.6 L329.5,44.79 L330.5,46.02 L331.5,47.3 L332.5,48.6 L333.5,49.92 L334.5,51.25 L335.5,52.58 L336.5,53.92 L337.5,55.25 L338.5,56.57 L339.5,57.88 L340.5,59.17 L341.5,60.45 L342.5,61.71 L343.5,62.94 L344.5,64.16 L345.5,65.35 L346.5,66.53 L347.5,67.68 L348.5,68.81 L349.5,69.91 L350.5,70.99 L351.5,72.05 L352.5,73.09 L353.5,74.11 L354.5,75.1 L355.5,76.08 L356.5,77.03 L357.5,77.96 L358.5,78.87 L359.5,79.76 L360.5,80.63 L361.5,81.49 L362.5,82.32 L363.5,83.13 L364.5,83.93 L365.5,84.71 L366.5,85.47 L367.5,86.22 L368.5,86.94 L369.5,87.65 L370.5,88.35 L371.5,89.03 L372.5,89.69 L373.5,90.34 L374.5,90.98 L375.5,91.6 L376.5,92.2 L377.5,92.79 L378.5,93.37 L379.5,93.93 L380.5,94.48 L381.5,95.02 L382.5,95.55 L383.5,96.06 L384.5,96.56 L385.5,97.05 L386.5,97.53 L387.5,97.99 L388.5,98.44 L389.5,98.89 L390.5,99.32 L391.5,99.74 L392.5,100.15 L393.5,100.55 L394.5,100.94 L395.5,101.32 L396.5,101.69 L397.5,102.05 L398.5,102.4 L399.5,102.75 L400.5,103.08 L401.5,103.41 L402.5,103.72 L403.5,104.03 L404.5,104.33 L405.5,104.62 L406.5,104.91 L407.5,105.18 L408.5,105.45 L409.5,105.72 L410.5,105.97 L411.5,106.22 L412.5,106.46 L413.5,106.69 L414.5,106.92 L415.5,107.14 L416.5,107.36 L417.5,107.57 L418.5,107.77 L419.5,107.97 L420.5,108.16 L421.5,108.34 L422.5,108.53 L423.5,108.7 L424.5,108.87 L425.5,109.04 L426.5,109.2 L427.5,109.35 L428.5,109.51 L429.5,109.65 L430.5,109.79 L431.5,109.93 L432.5,110.07 L433.5,110.2 L434.5,110.32 L435.5,110.45 L436.5,110.56 L437.5,110.68 L438.5,110.79 L439.5,110.9 L440.5,111.01 L441.5,111.11 L442.5,111.21 L443.5,111.3 L444.5,111.39 L445.5,111.48 L446.5,111.57 L447.5,111.66 L448.5,111.74 L449.5,111.82 L450.5,111.89 L451.5,111.97 L452.5,112.04 L453.5,112.11 L454.5,112.18 L455.5,112.24 L456.5,112.31 L457.5,112.37 L458.5,112.43 L459.5,112.48 L460.5,112.54 L461.5,112.59 L462.5,112.65 L463.5,112.7 L464.5,112.74 L465.5,112.79 L466.5,112.84 L467.5,112.88 L468.5,112.93 L469.5,112.97 L470.5,113.01 L471.5,113.05 L472.5,113.08 L473.5,113.12 L474.5,113.16 L475.5,113.19 L476.5,113.22 L477.5,113.25 L478.5,113.29 L479.5,113.32 L480.5,113.34 L481.5,113.37 L482.5,113.4 L483.5,113.43 L484.5,113.45 L485.5,113.48 L486.5,113.5 L487.5,113.52 L488.5,113.55 L489.5,113.57 L490.5,113.59 L491.5,113.61 L492.5,113.63 L493.5,113.65 L494.5,113.66 L495.5,113.68 L496.5,113.7 L497.5,113.72 L498.5,113.73 L499.5,113.75 L500.5,113.76 L501.5,113.78 L502.5,113.79 L503.5,113.8 L504.5,113.82 L505.5,113.83 L506.5,113.84 L507.5,113.85 L508.5,113.87 L509.5,113.88 L510.5,113.89 L511.5,113.9 L512.5,113.91 L513.5,113.92 L514.5,113.93 L515.5,113.94 L516.5,113.94 L517.5,113.95" class="c" stroke="#d2002a" stroke-dasharray="7.5 3.65 2.2 3.65" stroke-dashoffset="-0.5"/>
<path d="M108.5,114.37 L109.5,114.37 L110.5,114.38 L111.5,114.38 L112.5,114.39 L113.5,114.4 L114.5,114.4 L115.5,114.41 L116.5,114.42 L117.5,114.42 L118.5,114.43 L119.5,114.44 L120.5,114.45 L121.5,114.46 L122.5,114.46 L123.5,114.47 L124.5,114.48 L125.5,114.49 L126.5,114.5 L127.5,114.51 L128.5,114.52 L129.5,114.53 L130.5,114.55 L131.5,114.56 L132.5,114.57 L133.5,114.58 L134.5,114.6 L135.5,114.61 L136.5,114.62 L137.5,114.64 L138.5,114.65 L139.5,114.67 L140.5,114.68 L141.5,114.7 L142.5,114.72 L143.5,114.74 L144.5,114.75 L145.5,114.77 L146.5,114.79 L147.5,114.81 L148.5,114.83 L149.5,114.85 L150.5,114.88 L151.5,114.9 L152.5,114.92 L153.5,114.95 L154.5,114.97 L155.5,115 L156.5,115.03 L157.5,115.06 L158.5,115.08 L159.5,115.11 L160.5,115.15 L161.5,115.18 L162.5,115.21 L163.5,115.24 L164.5,115.28 L165.5,115.32 L166.5,115.35 L167.5,115.39 L168.5,115.43 L169.5,115.47 L170.5,115.52 L171.5,115.56 L172.5,115.61 L173.5,115.66 L174.5,115.7 L175.5,115.75 L176.5,115.81 L177.5,115.86 L178.5,115.92 L179.5,115.97 L180.5,116.03 L181.5,116.09 L182.5,116.16 L183.5,116.22 L184.5,116.29 L185.5,116.36 L186.5,116.43 L187.5,116.51 L188.5,116.58 L189.5,116.66 L190.5,116.74 L191.5,116.83 L192.5,116.92 L193.5,117.01 L194.5,117.1 L195.5,117.19 L196.5,117.29 L197.5,117.39 L198.5,117.5 L199.5,117.61 L200.5,117.72 L201.5,117.84 L202.5,117.95 L203.5,118.08 L204.5,118.2 L205.5,118.33 L206.5,118.47 L207.5,118.61 L208.5,118.75 L209.5,118.89 L210.5,119.05 L211.5,119.2 L212.5,119.36 L213.5,119.53 L214.5,119.7 L215.5,119.87 L216.5,120.06 L217.5,120.24 L218.5,120.43 L219.5,120.63 L220.5,120.83 L221.5,121.04 L222.5,121.26 L223.5,121.48 L224.5,121.71 L225.5,121.94 L226.5,122.18 L227.5,122.43 L228.5,122.68 L229.5,122.95 L230.5,123.22 L231.5,123.49 L232.5,123.78 L233.5,124.07 L234.5,124.37 L235.5,124.68 L236.5,124.99 L237.5,125.32 L238.5,125.65 L239.5,126 L240.5,126.35 L241.5,126.71 L242.5,127.08 L243.5,127.46 L244.5,127.85 L245.5,128.25 L246.5,128.66 L247.5,129.08 L248.5,129.51 L249.5,129.96 L250.5,130.41 L251.5,130.87 L252.5,131.35 L253.5,131.84 L254.5,132.34 L255.5,132.85 L256.5,133.38 L257.5,133.92 L258.5,134.47 L259.5,135.03 L260.5,135.61 L261.5,136.2 L262.5,136.8 L263.5,137.42 L264.5,138.06 L265.5,138.71 L266.5,139.37 L267.5,140.05 L268.5,140.75 L269.5,141.46 L270.5,142.18 L271.5,142.93 L272.5,143.69 L273.5,144.47 L274.5,145.27 L275.5,146.08 L276.5,146.91 L277.5,147.77 L278.5,148.64 L279.5,149.53 L280.5,150.44 L281.5,151.37 L282.5,152.32 L283.5,153.3 L284.5,154.29 L285.5,155.31 L286.5,156.35 L287.5,157.41 L288.5,158.49 L289.5,159.59 L290.5,160.72 L291.5,161.87 L292.5,163.05 L293.5,164.24 L294.5,165.46 L295.5,166.69 L296.5,167.95 L297.5,169.23 L298.5,170.52 L299.5,171.83 L300.5,173.15 L301.5,174.48 L302.5,175.82 L303.5,177.15 L304.5,178.48 L305.5,179.8 L306.5,181.1 L307.5,182.38 L308.5,183.61 L309.5,184.8 L310.5,185.92 L311.5,186.97 L312.5,187.93 L313.5,188.79 L314.5,189.53 L315.5,190.14 L316.5,190.61 L317.5,190.93 L318.5,191.09 L319.5,191.09 L320.5,190.93 L321.5,190.61 L322.5,190.14 L323.5,189.53 L324.5,188.79 L325.5,187.93 L326.5,186.97 L327.5,185.92 L328.5,184.8 L329.5,183.61 L330.5,182.38 L331.5,181.1 L332.5,179.8 L333.5,178.48 L334.5,177.15 L335.5,175.82 L336.5,174.48 L337.5,173.15 L338.5,171.83 L339.5,170.52 L340.5,169.23 L341.5,167.95 L342.5,166.69 L343.5,165.46 L344.5,164.24 L345.5,163.05 L346.5,161.87 L347.5,160.72 L348.5,159.59 L349.5,158.49 L350.5,157.41 L351.5,156.35 L352.5,155.31 L353.5,154.29 L354.5,153.3 L355.5,152.32 L356.5,151.37 L357.5,150.44 L358.5,149.53 L359.5,148.64 L360.5,147.77 L361.5,146.91 L362.5,146.08 L363.5,145.27 L364.5,144.47 L365.5,143.69 L366.5,142.93 L367.5,142.18 L368.5,141.46 L369.5,140.75 L370.5,140.05 L371.5,139.37 L372.5,138.71 L373.5,138.06 L374.5,137.42 L375.5,136.8 L376.5,136.2 L377.5,135.61 L378.5,135.03 L379.5,134.47 L380.5,133.92 L381.5,133.38 L382.5,132.85 L383.5,132.34 L384.5,131.84 L385.5,131.35 L386.5,130.87 L387.5,130.41 L388.5,129.96 L389.5,129.51 L390.5,129.08 L391.5,128.66 L392.5,128.25 L393.5,127.85 L394.5,127.46 L395.5,127.08 L396.5,126.71 L397.5,126.35 L398.5,126 L399.5,125.65 L400.5,125.32 L401.5,124.99 L402.5,124.68 L403.5,124.37 L404.5,124.07 L405.5,123.78 L406.5,123.49 L407.5,123.22 L408.5,122.95 L409.5,122.68 L410.5,122.43 L411.5,122.18 L412.5,121.94 L413.5,121.71 L414.5,121.48 L415.5,121.26 L416.5,121.04 L417.5,120.83 L418.5,120.63 L419.5,120.43 L420.5,120.24 L421.5,120.06 L422.5,119.87 L423.5,119.7 L424.5,119.53 L425.5,119.36 L426.5,119.2 L427.5,119.05 L428.5,118.89 L429.5,118.75 L430.5,118.61 L431.5,118.47 L432.5,118.33 L433.5,118.2 L434.5,118.08 L435.5,117.95 L436.5,117.84 L437.5,117.72 L438.5,117.61 L439.5,117.5 L440.5,117.39 L441.5,117.29 L442.5,117.19 L443.5,117.1 L444.5,117.01 L445.5,116.92 L446.5,116.83 L447.5,116.74 L448.5,116.66 L449.5,116.58 L450.5,116.51 L451.5,116.43 L452.5,116.36 L453.5,116.29 L454.5,116.22 L455.5,116.16 L456.5,116.09 L457.5,116.03 L458.5,115.97 L459.5,115.92 L460.5,115.86 L461.5,115.81 L462.5,115.75 L463.5,115.7 L464.5,115.66 L465.5,115.61 L466.5,115.56 L467.5,115.52 L468.5,115.47 L469.5,115.43 L470.5,115.39 L471.5,115.35 L472.5,115.32 L473.5,115.28 L474.5,115.24 L475.5,115.21 L476.5,115.18 L477.5,115.15 L478.5,115.11 L479.5,115.08 L480.5,115.06 L481.5,115.03 L482.5,115 L483.5,114.97 L484.5,114.95 L485.5,114.92 L486.5,114.9 L487.5,114.88 L488.5,114.85 L489.5,114.83 L490.5,114.81 L491.5,114.79 L492.5,114.77 L493.5,114.75 L494.5,114.74 L495.5,114.72 L496.5,114.7 L497.5,114.68 L498.5,114.67 L499.5,114.65 L500.5,114.64 L501.5,114.62 L502.5,114.61 L503.5,114.6 L504.5,114.58 L505.5,114.57 L506.5,114.56 L507.5,114.55 L508.5,114.53 L509.5,114.52 L510.5,114.51 L511.5,114.5 L512.5,114.49 L513.5,114.48 L514.5,114.47 L515.5,114.46 L516.5,114.46 L517.5,114.45" class="c" stroke="#d2002a" stroke-dasharray="7.5 3.65 2.2 3.65" stroke-dashoffset="-0.5"/>
<path d="M108.5,113.09 L109.5,112.95 L110.5,112.81 L111.5,112.67 L112.5,112.54 L113.5,112.4 L114.5,112.26 L115.5,112.13 L116.5,111.99 L117.5,111.86 L118.5,111.72 L119.5,111.59 L120.5,111.46 L121.5,111.32 L122.5,111.19 L123.5,111.06 L124.5,110.93 L125.5,110.8 L126.5,110.66 L127.5,110.53 L128.5,110.4 L129.5,110.27 L130.5,110.14 L131.5,110.01 L132.5,109.88 L133.5,109.75 L134.5,109.62 L135.5,109.49 L136.5,109.35 L137.5,109.22 L138.5,109.09 L139.5,108.95 L140.5,108.82 L141.5,108.69 L142.5,108.55 L143.5,108.41 L144.5,108.28 L145.5,108.14 L146.5,108 L147.5,107.86 L148.5,107.71 L149.5,107.57 L150.5,107.43 L151.5,107.28 L152.5,107.13 L153.5,106.98 L154.5,106.83 L155.5,106.67 L156.5,106.52 L157.5,106.36 L158.5,106.2 L159.5,106.03 L160.5,105.87 L161.5,105.7 L162.5,105.53 L163.5,105.35 L164.5,105.17 L165.5,104.99 L166.5,104.8 L167.5,104.61 L168.5,104.41 L169.5,104.21 L170.5,104 L171.5,103.79 L172.5,103.57 L173.5,103.35 L174.5,103.11 L175.5,102.88 L176.5,102.63 L177.5,102.38 L178.5,102.12 L179.5,101.85 L180.5,101.57 L181.5,101.29 L182.5,100.99 L183.5,100.69 L184.5,100.37 L185.5,100.05 L186.5,99.72 L187.5,99.37 L188.5,99.02 L189.5,98.65 L190.5,98.27 L191.5,97.88 L192.5,97.47 L193.5,97.06 L194.5,96.63 L195.5,96.18 L196.5,95.73 L197.5,95.25 L198.5,94.77 L199.5,94.26 L200.5,93.75 L201.5,93.21 L202.5,92.66 L203.5,92.09 L204.5,91.51 L205.5,90.9 L206.5,90.28 L207.5,89.64 L208.5,88.98 L209.5,88.31 L210.5,87.61 L211.5,86.89 L212.5,86.15 L213.5,85.39 L214.5,84.6 L215.5,83.8 L216.5,82.97 L217.5,82.12 L218.5,81.24 L219.5,80.34 L220.5,79.41 L221.5,78.46 L222.5,77.49 L223.5,76.48 L224.5,75.45 L225.5,74.4 L226.5,73.31 L227.5,72.2 L228.5,71.06 L229.5,69.89 L230.5,68.69 L231.5,67.47 L232.5,66.22 L233.5,64.94 L234.5,63.64 L235.5,62.31 L236.5,60.97 L237.5,59.6 L238.5,58.22 L239.5,56.83 L240.5,55.43 L241.5,54.02 L242.5,52.62 L243.5,51.24 L244.5,49.87 L245.5,48.54 L246.5,47.25 L247.5,46.02 L248.5,44.85 L249.5,43.77 L250.5,42.79 L251.5,41.93 L252.5,41.2 L253.5,40.62 L254.5,40.19 L255.5,39.93 L256.5,39.83 L257.5,39.91 L258.5,40.16 L259.5,40.58 L260.5,41.15 L261.5,41.86 L262.5,42.71 L263.5,43.67 L264.5,44.73 L265.5,45.87 L266.5,47.08 L267.5,48.35 L268.5,49.67 L269.5,51.02 L270.5,52.38 L271.5,53.77 L272.5,55.15 L273.5,56.54 L274.5,57.92 L275.5,59.29 L276.5,60.65 L277.5,61.99 L278.5,63.31 L279.5,64.61 L280.5,65.89 L281.5,67.14 L282.5,68.37 L283.5,69.57 L284.5,70.75 L285.5,71.9 L286.5,73.02 L287.5,74.12 L288.5,75.19 L289.5,76.24 L290.5,77.26 L291.5,78.26 L292.5,79.24 L293.5,80.19 L294.5,81.11 L295.5,82.02 L296.5,82.9 L297.5,83.76 L298.5,84.6 L299.5,85.42 L300.5,86.21 L301.5,86.99 L302.5,87.75 L303.5,88.49 L304.5,89.21 L305.5,89.91 L306.5,90.6 L307.5,91.27 L308.5,91.92 L309.5,92.55 L310.5,93.17 L311.5,93.77 L312.5,94.36 L313.5,94.93 L314.5,95.49 L315.5,96.03 L316.5,96.56 L317.5,97.08 L318.5,97.58 L319.5,98.07 L320.5,98.55 L321.5,99.01 L322.5,99.46 L323.5,99.91 L324.5,100.33 L325.5,100.75 L326.5,101.16 L327.5,101.55 L328.5,101.94 L329.5,102.31 L330.5,102.68 L331.5,103.03 L332.5,103.38 L333.5,103.72 L334.5,104.04 L335.5,104.36 L336.5,104.67 L337.5,104.97 L338.5,105.26 L339.5,105.55 L340.5,105.82 L341.5,106.09 L342.5,106.35 L343.5,106.61 L344.5,106.85 L345.5,107.09 L346.5,107.32 L347.5,107.55 L348.5,107.77 L349.5,107.98 L350.5,108.19 L351.5,108.39 L352.5,108.58 L353.5,108.77 L354.5,108.95 L355.5,109.13 L356.5,109.31 L357.5,109.47 L358.5,109.64 L359.5,109.79 L360.5,109.95 L361.5,110.1 L362.5,110.24 L363.5,110.38 L364.5,110.51 L365.5,110.65 L366.5,110.77 L367.5,110.9 L368.5,111.02 L369.5,111.13 L370.5,111.24 L371.5,111.35 L372.5,111.46 L373.5,111.56 L374.5,111.66 L375.5,111.76 L376.5,111.85 L377.5,111.94 L378.5,112.03 L379.5,112.11 L380.5,112.2 L381.5,112.28 L382.5,112.35 L383.5,112.43 L384.5,112.5 L385.5,112.57 L386.5,112.64 L387.5,112.71 L388.5,112.77 L389.5,112.83 L390.5,112.89 L391.5,112.95 L392.5,113.01 L393.5,113.06 L394.5,113.11 L395.5,113.16 L396.5,113.21 L397.5,113.26 L398.5,113.31 L399.5,113.35 L400.5,113.4 L401.5,113.44 L402.5,113.48 L403.5,113.52 L404.5,113.56 L405.5,113.6 L406.5,113.63 L407.5,113.67 L408.5,113.7 L409.5,113.74 L410.5,113.77 L411.5,113.8 L412.5,113.83 L413.5,113.86 L414.5,113.89 L415.5,113.91 L416.5,113.94 L417.5,113.97 L418.5,113.99 L419.5,114.02 L420.5,114.04 L421.5,114.06 L422.5,114.08 L423.5,114.1 L424.5,114.13 L425.5,114.15 L426.5,114.17 L427.5,114.18 L428.5,114.2 L429.5,114.22 L430.5,114.24 L431.5,114.26 L432.5,114.27 L433.5,114.29 L434.5,114.3 L435.5,114.32 L436.5,114.33 L437.5,114.35 L438.5,114.36 L439.5,114.37 L440.5,114.39 L441.5,114.4 L442.5,114.41 L443.5,114.42 L444.5,114.44 L445.5,114.45 L446.5,114.46 L447.5,114.47 L448.5,114.48 L449.5,114.49 L450.5,114.5 L451.5,114.51 L452.5,114.52 L453.5,114.53 L454.5,114.54 L455.5,114.55 L456.5,114.55 L457.5,114.56 L458.5,114.57 L459.5,114.58 L460.5,114.58 L461.5,114.59 L462.5,114.6 L463.5,114.61 L464.5,114.61 L465.5,114.62 L466.5,114.63 L467.5,114.63 L468.5,114.64 L469.5,114.64 L470.5,114.65 L471.5,114.66 L472.5,114.66 L473.5,114.67 L474.5,114.67 L475.5,114.68 L476.5,114.68 L477.5,114.69 L478.5,114.69 L479.5,114.7 L480.5,114.7 L481.5,114.71 L482.5,114.71 L483.5,114.71 L484.5,114.72 L485.5,114.72 L486.5,114.73 L487.5,114.73 L488.5,114.73 L489.5,114.74 L490.5,114.74 L491.5,114.74 L492.5,114.75 L493.5,114.75 L494.5,114.75 L495.5,114.76 L496.5,114.76 L497.5,114.76 L498.5,114.76 L499.5,114.77 L500.5,114.77 L501.5,114.77 L502.5,114.77 L503.5,114.78 L504.5,114.78 L505.5,114.78 L506.5,114.78 L507.5,114.78 L508.5,114.79 L509.5,114.79 L510.5,114.79 L511.5,114.79 L512.5,114.79 L513.5,114.8 L514.5,114.8 L515.5,114.8 L516.5,114.8 L517.5,114.8" class="c" stroke="#ff9326"/>
<path d="M108.5,116.51 L109.5,116.65 L110.5,116.79 L111.5,116.93 L112.5,117.06 L113.5,117.2 L114.5,117.34 L115.5,117.47 L116.5,117.61 L117.5,117.74 L118.5,117.88 L119.5,118.01 L120.5,118.14 L121.5,118.28 L122.5,118.41 L123.5,118.54 L124.5,118.67 L125.5,118.8 L126.5,118.94 L127.5,119.07 L128.5,119.2 L129.5,119.33 L130.5,119.46 L131.5,119.59 L132.5,119.72 L133.5,119.85 L134.5,119.98 L135.5,120.11 L136.5,120.25 L137.5,120.38 L138.5,120.51 L139.5,120.65 L140.5,120.78 L141.5,120.91 L142.5,121.05 L143.5,121.19 L144.5,121.32 L145.5,121.46 L146.5,121.6 L147.5,121.74 L148.5,121.89 L149.5,122.03 L150.5,122.17 L151.5,122.32 L152.5,122.47 L153.5,122.62 L154.5,122.77 L155.5,122.93 L156.5,123.08 L157.5,123.24 L158.5,123.4 L159.5,123.57 L160.5,123.73 L161.5,123.9 L162.5,124.07 L163.5,124.25 L164.5,124.43 L165.5,124.61 L166.5,124.8 L167.5,124.99 L168.5,125.19 L169.5,125.39 L170.5,125.6 L171.5,125.81 L172.5,126.03 L173.5,126.25 L174.5,126.49 L175.5,126.72 L176.5,126.97 L177.5,127.22 L178.5,127.48 L179.5,127.75 L180.5,128.03 L181.5,128.31 L182.5,128.61 L183.5,128.91 L184.5,129.23 L185.5,129.55 L186.5,129.88 L187.5,130.23 L188.5,130.58 L189.5,130.95 L190.5,131.33 L191.5,131.72 L192.5,132.13 L193.5,132.54 L194.5,132.97 L195.5,133.42 L196.5,133.87 L197.5,134.35 L198.5,134.83 L199.5,135.34 L200.5,135.85 L201.5,136.39 L202.5,136.94 L203.5,137.51 L204.5,138.09 L205.5,138.7 L206.5,139.32 L207.5,139.96 L208.5,140.62 L209.5,141.29 L210.5,141.99 L211.5,142.71 L212.5,143.45 L213.5,144.21 L214.5,145 L215.5,145.8 L216.5,146.63 L217.5,147.48 L218.5,148.36 L219.5,149.26 L220.5,150.19 L221.5,151.14 L222.5,152.11 L223.5,153.12 L224.5,154.15 L225.5,155.2 L226.5,156.29 L227.5,157.4 L228.5,158.54 L229.5,159.71 L230.5,160.91 L231.5,162.13 L232.5,163.38 L233.5,164.66 L234.5,165.96 L235.5,167.29 L236.5,168.63 L237.5,170 L238.5,171.38 L239.5,172.77 L240.5,174.17 L241.5,175.58 L242.5,176.98 L243.5,178.36 L244.5,179.73 L245.5,181.06 L246.5,182.35 L247.5,183.58 L248.5,184.75 L249.5,185.83 L250.5,186.81 L251.5,187.67 L252.5,188.4 L253.5,188.98 L254.5,189.41 L255.5,189.67 L256.5,189.77 L257.5,189.69 L258.5,189.44 L259.5,189.02 L260.5,188.45 L261.5,187.74 L262.5,186.89 L263.5,185.93 L264.5,184.87 L265.5,183.73 L266.5,182.52 L267.5,181.25 L268.5,179.93 L269.5,178.58 L270.5,177.22 L271.5,175.83 L272.5,174.45 L273.5,173.06 L274.5,171.68 L275.5,170.31 L276.5,168.95 L277.5,167.61 L278.5,166.29 L279.5,164.99 L280.5,163.71 L281.5,162.46 L282.5,161.23 L283.5,160.03 L284.5,158.85 L285.5,157.7 L286.5,156.58 L287.5,155.48 L288.5,154.41 L289.5,153.36 L290.5,152.34 L291.5,151.34 L292.5,150.36 L293.5,149.41 L294.5,148.49 L295.5,147.58 L296.5,146.7 L297.5,145.84 L298.5,145 L299.5,144.18 L300.5,143.39 L301.5,142.61 L302.5,141.85 L303.5,141.11 L304.5,140.39 L305.5,139.69 L306.5,139 L307.5,138.33 L308.5,137.68 L309.5,137.05 L310.5,136.43 L311.5,135.83 L312.5,135.24 L313.5,134.67 L314.5,134.11 L315.5,133.57 L316.5,133.04 L317.5,132.52 L318.5,132.02 L319.5,131.53 L320.5,131.05 L321.5,130.59 L322.5,130.14 L323.5,129.69 L324.5,129.27 L325.5,128.85 L326.5,128.44 L327.5,128.05 L328.5,127.66 L329.5,127.29 L330.5,126.92 L331.5,126.57 L332.5,126.22 L333.5,125.88 L334.5,125.56 L335.5,125.24 L336.5,124.93 L337.5,124.63 L338.5,124.34 L339.5,124.05 L340.5,123.78 L341.5,123.51 L342.5,123.25 L343.5,122.99 L344.5,122.75 L345.5,122.51 L346.5,122.28 L347.5,122.05 L348.5,121.83 L349.5,121.62 L350.5,121.41 L351.5,121.21 L352.5,121.02 L353.5,120.83 L354.5,120.65 L355.5,120.47 L356.5,120.29 L357.5,120.13 L358.5,119.96 L359.5,119.81 L360.5,119.65 L361.5,119.5 L362.5,119.36 L363.5,119.22 L364.5,119.09 L365.5,118.95 L366.5,118.83 L367.5,118.7 L368.5,118.58 L369.5,118.47 L370.5,118.36 L371.5,118.25 L372.5,118.14 L373.5,118.04 L374.5,117.94 L375.5,117.84 L376.5,117.75 L377.5,117.66 L378.5,117.57 L379.5,117.49 L380.5,117.4 L381.5,117.32 L382.5,117.25 L383.5,117.17 L384.5,117.1 L385.5,117.03 L386.5,116.96 L387.5,116.89 L388.5,116.83 L389.5,116.77 L390.5,116.71 L391.5,116.65 L392.5,116.59 L393.5,116.54 L394.5,116.49 L395.5,116.44 L396.5,116.39 L397.5,116.34 L398.5,116.29 L399.5,116.25 L400.5,116.2 L401.5,116.16 L402.5,116.12 L403.5,116.08 L404.5,116.04 L405.5,116 L406.5,115.97 L407.5,115.93 L408.5,115.9 L409.5,115.86 L410.5,115.83 L411.5,115.8 L412.5,115.77 L413.5,115.74 L414.5,115.71 L415.5,115.69 L416.5,115.66 L417.5,115.63 L418.5,115.61 L419.5,115.58 L420.5,115.56 L421.5,115.54 L422.5,115.52 L423.5,115.5 L424.5,115.47 L425.5,115.45 L426.5,115.43 L427.5,115.42 L428.5,115.4 L429.5,115.38 L430.5,115.36 L431.5,115.34 L432.5,115.33 L433.5,115.31 L434.5,115.3 L435.5,115.28 L436.5,115.27 L437.5,115.25 L438.5,115.24 L439.5,115.23 L440.5,115.21 L441.5,115.2 L442.5,115.19 L443.5,115.18 L444.5,115.16 L445.5,115.15 L446.5,115.14 L447.5,115.13 L448.5,115.12 L449.5,115.11 L450.5,115.1 L451.5,115.09 L452.5,115.08 L453.5,115.07 L454.5,115.06 L455.5,115.05 L456.5,115.05 L457.5,115.04 L458.5,115.03 L459.5,115.02 L460.5,115.02 L461.5,115.01 L462.5,115 L463.5,114.99 L464.5,114.99 L465.5,114.98 L466.5,114.97 L467.5,114.97 L468.5,114.96 L469.5,114.96 L470.5,114.95 L471.5,114.94 L472.5,114.94 L473.5,114.93 L474.5,114.93 L475.5,114.92 L476.5,114.92 L477.5,114.91 L478.5,114.91 L479.5,114.9 L480.5,114.9 L481.5,114.89 L482.5,114.89 L483.5,114.89 L484.5,114.88 L485.5,114.88 L486.5,114.87 L487.5,114.87 L488.5,114.87 L489.5,114.86 L490.5,114.86 L491.5,114.86 L492.5,114.85 L493.5,114.85 L494.5,114.85 L495.5,114.84 L496.5,114.84 L497.5,114.84 L498.5,114.84 L499.5,114.83 L500.5,114.83 L501.5,114.83 L502.5,114.83 L503.5,114.82 L504.5,114.82 L505.5,114.82 L506.5,114.82 L507.5,114.82 L508.5,114.81 L509.5,114.81 L510.5,114.81 L511.5,114.81 L512.5,114.81 L513.5,114.8 L514.5,114.8 L515.5,114.8 L516.5,114.8 L517.5,114.8" class="c" stroke="#ff9326"/>
<path d="M108.5,113.56 L109.5,113.55 L110.5,113.53 L111.5,113.52 L112.5,113.5 L113.5,113.48 L114.5,113.47 L115.5,113.45 L116.5,113.43 L117.5,113.41 L118.5,113.39 L119.5,113.37 L120.5,113.35 L121.5,113.33 L122.5,113.3 L123.5,113.28 L124.5,113.26 L125.5,113.23 L126.5,113.2 L127.5,113.18 L128.5,113.15 L129.5,113.12 L130.5,113.09 L131.5,113.06 L132.5,113.03 L133.5,112.99 L134.5,112.96 L135.5,112.93 L136.5,112.89 L137.5,112.85 L138.5,112.81 L139.5,112.77 L140.5,112.73 L141.5,112.69 L142.5,112.64 L143.5,112.6 L144.5,112.55 L145.5,112.5 L146.5,112.45 L147.5,112.4 L148.5,112.35 L149.5,112.29 L150.5,112.23 L151.5,112.17 L152.5,112.11 L153.5,112.05 L154.5,111.98 L155.5,111.92 L156.5,111.85 L157.5,111.78 L158.5,111.7 L159.5,111.63 L160.5,111.55 L161.5,111.46 L162.5,111.38 L163.5,111.29 L164.5,111.2 L165.5,111.11 L166.5,111.02 L167.5,110.92 L168.5,110.82 L169.5,110.71 L170.5,110.6 L171.5,110.49 L172.5,110.37 L173.5,110.26 L174.5,110.13 L175.5,110.01 L176.5,109.88 L177.5,109.74 L178.5,109.6 L179.5,109.46 L180.5,109.31 L181.5,109.16 L182.5,109.01 L183.5,108.84 L184.5,108.68 L185.5,108.51 L186.5,108.33 L187.5,108.15 L188.5,107.96 L189.5,107.77 L190.5,107.57 L191.5,107.37 L192.5,107.16 L193.5,106.94 L194.5,106.72 L195.5,106.49 L196.5,106.25 L197.5,106.01 L198.5,105.76 L199.5,105.5 L200.5,105.24 L201.5,104.97 L202.5,104.69 L203.5,104.4 L204.5,104.1 L205.5,103.8 L206.5,103.49 L207.5,103.17 L208.5,102.84 L209.5,102.5 L210.5,102.15 L211.5,101.8 L212.5,101.43 L213.5,101.05 L214.5,100.67 L215.5,100.27 L216.5,99.86 L217.5,99.44 L218.5,99.01 L219.5,98.57 L220.5,98.12 L221.5,97.66 L222.5,97.18 L223.5,96.7 L224.5,96.2 L225.5,95.68 L226.5,95.16 L227.5,94.62 L228.5,94.07 L229.5,93.5 L230.5,92.92 L231.5,92.33 L232.5,91.72 L233.5,91.1 L234.5,90.46 L235.5,89.8 L236.5,89.13 L237.5,88.44 L238.5,87.74 L239.5,87.02 L240.5,86.28 L241.5,85.52 L242.5,84.75 L243.5,83.96 L244.5,83.15 L245.5,82.31 L246.5,81.46 L247.5,80.59 L248.5,79.7 L249.5,78.79 L250.5,77.85 L251.5,76.89 L252.5,75.91 L253.5,74.91 L254.5,73.88 L255.5,72.83 L256.5,71.76 L257.5,70.66 L258.5,69.54 L259.5,68.39 L260.5,67.22 L261.5,66.02 L262.5,64.8 L263.5,63.56 L264.5,62.29 L265.5,60.99 L266.5,59.68 L267.5,58.35 L268.5,56.99 L269.5,55.63 L270.5,54.24 L271.5,52.86 L272.5,51.46 L273.5,50.08 L274.5,48.7 L275.5,47.33 L276.5,46 L277.5,44.7 L278.5,43.46 L279.5,42.28 L280.5,41.18 L281.5,40.18 L282.5,39.29 L283.5,38.53 L284.5,37.92 L285.5,37.46 L286.5,37.16 L287.5,37.04 L288.5,37.1 L289.5,37.33 L290.5,37.73 L291.5,38.29 L292.5,39 L293.5,39.85 L294.5,40.81 L295.5,41.88 L296.5,43.03 L297.5,44.25 L298.5,45.53 L299.5,46.85 L300.5,48.2 L301.5,49.58 L302.5,50.96 L303.5,52.36 L304.5,53.75 L305.5,55.13 L306.5,56.5 L307.5,57.86 L308.5,59.2 L309.5,60.52 L310.5,61.82 L311.5,63.1 L312.5,64.36 L313.5,65.59 L314.5,66.79 L315.5,67.97 L316.5,69.13 L317.5,70.26 L318.5,71.37 L319.5,72.45 L320.5,73.51 L321.5,74.54 L322.5,75.55 L323.5,76.54 L324.5,77.51 L325.5,78.45 L326.5,79.37 L327.5,80.27 L328.5,81.15 L329.5,82.01 L330.5,82.85 L331.5,83.67 L332.5,84.47 L333.5,85.25 L334.5,86.01 L335.5,86.76 L336.5,87.48 L337.5,88.19 L338.5,88.89 L339.5,89.56 L340.5,90.22 L341.5,90.87 L342.5,91.5 L343.5,92.11 L344.5,92.71 L345.5,93.3 L346.5,93.87 L347.5,94.42 L348.5,94.97 L349.5,95.5 L350.5,96.01 L351.5,96.52 L352.5,97.01 L353.5,97.49 L354.5,97.96 L355.5,98.41 L356.5,98.86 L357.5,99.29 L358.5,99.71 L359.5,100.12 L360.5,100.52 L361.5,100.91 L362.5,101.29 L363.5,101.66 L364.5,102.03 L365.5,102.38 L366.5,102.72 L367.5,103.05 L368.5,103.37 L369.5,103.69 L370.5,104 L371.5,104.29 L372.5,104.58 L373.5,104.87 L374.5,105.14 L375.5,105.41 L376.5,105.67 L377.5,105.92 L378.5,106.17 L379.5,106.4 L380.5,106.64 L381.5,106.86 L382.5,107.08 L383.5,107.29 L384.5,107.49 L385.5,107.69 L386.5,107.88 L387.5,108.06 L388.5,108.24 L389.5,108.41 L390.5,108.57 L391.5,108.73 L392.5,108.89 L393.5,109.04 L394.5,109.18 L395.5,109.32 L396.5,109.45 L397.5,109.58 L398.5,109.71 L399.5,109.83 L400.5,109.94 L401.5,110.05 L402.5,110.16 L403.5,110.26 L404.5,110.36 L405.5,110.46 L406.5,110.55 L407.5,110.63 L408.5,110.72 L409.5,110.8 L410.5,110.88 L411.5,110.95 L412.5,111.02 L413.5,111.09 L414.5,111.16 L415.5,111.22 L416.5,111.28 L417.5,111.34 L418.5,111.4 L419.5,111.45 L420.5,111.5 L421.5,111.55 L422.5,111.6 L423.5,111.64 L424.5,111.69 L425.5,111.73 L426.5,111.77 L427.5,111.81 L428.5,111.84 L429.5,111.88 L430.5,111.91 L431.5,111.94 L432.5,111.97 L433.5,112 L434.5,112.03 L435.5,112.06 L436.5,112.09 L437.5,112.11 L438.5,112.14 L439.5,112.16 L440.5,112.18 L441.5,112.2 L442.5,112.23 L443.5,112.25 L444.5,112.27 L445.5,112.29 L446.5,112.31 L447.5,112.33 L448.5,112.34 L449.5,112.36 L450.5,112.38 L451.5,112.4 L452.5,112.42 L453.5,112.43 L454.5,112.45 L455.5,112.47 L456.5,112.49 L457.5,112.51 L458.5,112.52 L459.5,112.54 L460.5,112.56 L461.5,112.58 L462.5,112.59 L463.5,112.61 L464.5,112.63 L465.5,112.64 L466.5,112.66 L467.5,112.67 L468.5,112.69 L469.5,112.7 L470.5,112.71 L471.5,112.73 L472.5,112.74 L473.5,112.75 L474.5,112.76 L475.5,112.77 L476.5,112.78 L477.5,112.79 L478.5,112.8 L479.5,112.81 L480.5,112.82 L481.5,112.83 L482.5,112.84 L483.5,112.85 L484.5,112.86 L485.5,112.87 L486.5,112.87 L487.5,112.88 L488.5,112.89 L489.5,112.9 L490.5,112.9 L491.5,112.91 L492.5,112.92 L493.5,112.92 L494.5,112.93 L495.5,112.93 L496.5,112.94 L497.5,112.94 L498.5,112.95 L499.5,112.95 L500.5,112.96 L501.5,112.96 L502.5,112.97 L503.5,112.97 L504.5,112.98 L505.5,112.98 L506.5,112.98 L507.5,112.99 L508.5,112.99 L509.5,113 L510.5,113 L511.5,113 L512.5,113.01 L513.5,113.01 L514.5,113.01 L515.5,113.01 L516.5,113.02 L517.5,113.02" class="c" stroke="#ff6000" stroke-dasharray="7.6 3.8"/>
<path d="M108.5,114.44 L109.5,114.45 L110.5,114.47 L111.5,114.48 L112.5,114.5 L113.5,114.52 L114.5,114.53 L115.5,114.55 L116.5,114.57 L117.5,114.59 L118.5,114.61 L119.5,114.63 L120.5,114.65 L121.5,114.67 L122.5,114.7 L123.5,114.72 L124.5,114.74 L125.5,114.77 L126.5,114.8 L127.5,114.82 L128.5,114.85 L129.5,114.88 L130.5,114.91 L131.5,114.94 L132.5,114.97 L133.5,115.01 L134.5,115.04 L135.5,115.07 L136.5,115.11 L137.5,115.15 L138.5,115.19 L139.5,115.23 L140.5,115.27 L141.5,115.31 L142.5,115.36 L143.5,115.4 L144.5,115.45 L145.5,115.5 L146.5,115.55 L147.5,115.6 L148.5,115.65 L149.5,115.71 L150.5,115.77 L151.5,115.83 L152.5,115.89 L153.5,115.95 L154.5,116.02 L155.5,116.08 L156.5,116.15 L157.5,116.22 L158.5,116.3 L159.5,116.37 L160.5,116.45 L161.5,116.54 L162.5,116.62 L163.5,116.71 L164.5,116.8 L165.5,116.89 L166.5,116.98 L167.5,117.08 L168.5,117.18 L169.5,117.29 L170.5,117.4 L171.5,117.51 L172.5,117.63 L173.5,117.74 L174.5,117.87 L175.5,117.99 L176.5,118.12 L177.5,118.26 L178.5,118.4 L179.5,118.54 L180.5,118.69 L181.5,118.84 L182.5,118.99 L183.5,119.16 L184.5,119.32 L185.5,119.49 L186.5,119.67 L187.5,119.85 L188.5,120.04 L189.5,120.23 L190.5,120.43 L191.5,120.63 L192.5,120.84 L193.5,121.06 L194.5,121.28 L195.5,121.51 L196.5,121.75 L197.5,121.99 L198.5,122.24 L199.5,122.5 L200.5,122.76 L201.5,123.03 L202.5,123.31 L203.5,123.6 L204.5,123.9 L205.5,124.2 L206.5,124.51 L207.5,124.83 L208.5,125.16 L209.5,125.5 L210.5,125.85 L211.5,126.2 L212.5,126.57 L213.5,126.95 L214.5,127.33 L215.5,127.73 L216.5,128.14 L217.5,128.56 L218.5,128.99 L219.5,129.43 L220.5,129.88 L221.5,130.34 L222.5,130.82 L223.5,131.3 L224.5,131.8 L225.5,132.32 L226.5,132.84 L227.5,133.38 L228.5,133.93 L229.5,134.5 L230.5,135.08 L231.5,135.67 L232.5,136.28 L233.5,136.9 L234.5,137.54 L235.5,138.2 L236.5,138.87 L237.5,139.56 L238.5,140.26 L239.5,140.98 L240.5,141.72 L241.5,142.48 L242.5,143.25 L243.5,144.04 L244.5,144.85 L245.5,145.69 L246.5,146.54 L247.5,147.41 L248.5,148.3 L249.5,149.21 L250.5,150.15 L251.5,151.11 L252.5,152.09 L253.5,153.09 L254.5,154.12 L255.5,155.17 L256.5,156.24 L257.5,157.34 L258.5,158.46 L259.5,159.61 L260.5,160.78 L261.5,161.98 L262.5,163.2 L263.5,164.44 L264.5,165.71 L265.5,167.01 L266.5,168.32 L267.5,169.65 L268.5,171.01 L269.5,172.37 L270.5,173.76 L271.5,175.14 L272.5,176.54 L273.5,177.92 L274.5,179.3 L275.5,180.67 L276.5,182 L277.5,183.3 L278.5,184.54 L279.5,185.72 L280.5,186.82 L281.5,187.82 L282.5,188.71 L283.5,189.47 L284.5,190.08 L285.5,190.54 L286.5,190.84 L287.5,190.96 L288.5,190.9 L289.5,190.67 L290.5,190.27 L291.5,189.71 L292.5,189 L293.5,188.15 L294.5,187.19 L295.5,186.12 L296.5,184.97 L297.5,183.75 L298.5,182.47 L299.5,181.15 L300.5,179.8 L301.5,178.42 L302.5,177.04 L303.5,175.64 L304.5,174.25 L305.5,172.87 L306.5,171.5 L307.5,170.14 L308.5,168.8 L309.5,167.48 L310.5,166.18 L311.5,164.9 L312.5,163.64 L313.5,162.41 L314.5,161.21 L315.5,160.03 L316.5,158.87 L317.5,157.74 L318.5,156.63 L319.5,155.55 L320.5,154.49 L321.5,153.46 L322.5,152.45 L323.5,151.46 L324.5,150.49 L325.5,149.55 L326.5,148.63 L327.5,147.73 L328.5,146.85 L329.5,145.99 L330.5,145.15 L331.5,144.33 L332.5,143.53 L333.5,142.75 L334.5,141.99 L335.5,141.24 L336.5,140.52 L337.5,139.81 L338.5,139.11 L339.5,138.44 L340.5,137.78 L341.5,137.13 L342.5,136.5 L343.5,135.89 L344.5,135.29 L345.5,134.7 L346.5,134.13 L347.5,133.58 L348.5,133.03 L349.5,132.5 L350.5,131.99 L351.5,131.48 L352.5,130.99 L353.5,130.51 L354.5,130.04 L355.5,129.59 L356.5,129.14 L357.5,128.71 L358.5,128.29 L359.5,127.88 L360.5,127.48 L361.5,127.09 L362.5,126.71 L363.5,126.34 L364.5,125.97 L365.5,125.62 L366.5,125.28 L367.5,124.95 L368.5,124.63 L369.5,124.31 L370.5,124 L371.5,123.71 L372.5,123.42 L373.5,123.13 L374.5,122.86 L375.5,122.59 L376.5,122.33 L377.5,122.08 L378.5,121.83 L379.5,121.6 L380.5,121.36 L381.5,121.14 L382.5,120.92 L383.5,120.71 L384.5,120.51 L385.5,120.31 L386.5,120.12 L387.5,119.94 L388.5,119.76 L389.5,119.59 L390.5,119.43 L391.5,119.27 L392.5,119.11 L393.5,118.96 L394.5,118.82 L395.5,118.68 L396.5,118.55 L397.5,118.42 L398.5,118.29 L399.5,118.17 L400.5,118.06 L401.5,117.95 L402.5,117.84 L403.5,117.74 L404.5,117.64 L405.5,117.54 L406.5,117.45 L407.5,117.37 L408.5,117.28 L409.5,117.2 L410.5,117.12 L411.5,117.05 L412.5,116.98 L413.5,116.91 L414.5,116.84 L415.5,116.78 L416.5,116.72 L417.5,116.66 L418.5,116.6 L419.5,116.55 L420.5,116.5 L421.5,116.45 L422.5,116.4 L423.5,116.36 L424.5,116.31 L425.5,116.27 L426.5,116.23 L427.5,116.19 L428.5,116.16 L429.5,116.12 L430.5,116.09 L431.5,116.06 L432.5,116.03 L433.5,116 L434.5,115.97 L435.5,115.94 L436.5,115.91 L437.5,115.89 L438.5,115.86 L439.5,115.84 L440.5,115.82 L441.5,115.8 L442.5,115.77 L443.5,115.75 L444.5,115.73 L445.5,115.71 L446.5,115.69 L447.5,115.67 L448.5,115.66 L449.5,115.64 L450.5,115.62 L451.5,115.6 L452.5,115.58 L453.5,115.57 L454.5,115.55 L455.5,115.53 L456.5,115.51 L457.5,115.49 L458.5,115.48 L459.5,115.46 L460.5,115.44 L461.5,115.42 L462.5,115.41 L463.5,115.39 L464.5,115.37 L465.5,115.36 L466.5,115.34 L467.5,115.33 L468.5,115.31 L469.5,115.3 L470.5,115.29 L471.5,115.27 L472.5,115.26 L473.5,115.25 L474.5,115.24 L475.5,115.23 L476.5,115.22 L477.5,115.21 L478.5,115.2 L479.5,115.19 L480.5,115.18 L481.5,115.17 L482.5,115.16 L483.5,115.15 L484.5,115.14 L485.5,115.13 L486.5,115.13 L487.5,115.12 L488.5,115.11 L489.5,115.1 L490.5,115.1 L491.5,115.09 L492.5,115.08 L493.5,115.08 L494.5,115.07 L495.5,115.07 L496.5,115.06 L497.5,115.06 L498.5,115.05 L499.5,115.05 L500.5,115.04 L501.5,115.04 L502.5,115.03 L503.5,115.03 L504.5,115.02 L505.5,115.02 L506.5,115.02 L507.5,115.01 L508.5,115.01 L509.5,115 L510.5,115 L511.5,115 L512.5,114.99 L513.5,114.99 L514.5,114.99 L515.5,114.99 L516.5,114.98 L517.5,114.98" class="c" stroke="#ff6000" stroke-dasharray="7.6 3.8"/>
<path d="M456.5,115.51 L457.5,115.49 L458.5,115.48 L459.5,115.46 L460.5,115.44 L461.5,115.42 L462.5,115.41 L463.5,115.39 L464.5,115.37 L465.5,115.36 L466.5,115.34 L467.5,115.33 L468.5,115.31 L469.5,115.3 L470.5,115.29 L471.5,115.27 L472.5,115.26 L473.5,115.25 L474.5,115.24 L475.5,115.23 L476.5,115.22 L477.5,115.21 L478.5,115.2 L479.5,115.19 L480.5,115.18 L481.5,115.17 L482.5,115.16 L483.5,115.15 L484.5,115.14 L485.5,115.13 L486.5,115.13 L487.5,115.12 L488.5,115.11 L489.5,115.1 L490.5,115.1 L491.5,115.09 L492.5,115.08 L493.5,115.08 L494.5,115.07 L495.5,115.07 L496.5,115.06 L497.5,115.06 L498.5,115.05 L499.5,115.05 L500.5,115.04 L501.5,115.04 L502.5,115.03 L503.5,115.03 L504.5,115.02 L505.5,115.02 L506.5,115.02 L507.5,115.01 L508.5,115.01 L509.5,115 L510.5,115 L511.5,115 L512.5,114.99 L513.5,114.99 L514.5,114.99 L515.5,114.99 L516.5,114.98 L517.5,114.98" class="c" stroke="#ff6000"/>
<rect x="108.5" y="9.5" width="409" height="211.5" fill="none" stroke="#909090" stroke-width="1"/>
<text x="50.16" y="16" textLength="54.92" lengthAdjust="spacingAndGlyphs">20dBv</text>
<text x="86.08" y="70.27" textLength="20.77" lengthAdjust="spacingAndGlyphs">10</text>
<text x="96.24" y="122.06" textLength="10.61" lengthAdjust="spacingAndGlyphs">0</text>
<text x="78.25" y="176.18" textLength="29.42" lengthAdjust="spacingAndGlyphs">-10</text>
<text x="78.25" y="226.12" textLength="29.42" lengthAdjust="spacingAndGlyphs">-20</text>
<text x="98.09" y="241.25" textLength="21.41" lengthAdjust="spacingAndGlyphs">20</text>
<text x="190.68" y="241.85" textLength="31.13" lengthAdjust="spacingAndGlyphs">100</text>
<text x="323.37" y="241.75" textLength="20.33" lengthAdjust="spacingAndGlyphs">1k</text>
<text x="460.34" y="241.25" textLength="29.06" lengthAdjust="spacingAndGlyphs">10k</text>
<text x="497.19" y="241.3" textLength="53.00" lengthAdjust="spacingAndGlyphs">20kHz</text>
</g>
<text x="247.62" y="571.15" textLength="120.65" lengthAdjust="spacingAndGlyphs">MID Boost/Cut</text>
<line x1="105" y1="587.75" x2="135" y2="587.75" stroke="#ff9326" stroke-width="4.3"/>
<text x="141.61" y="595.3" textLength="53.35" lengthAdjust="spacingAndGlyphs">250Hz</text>
<line x1="229.4" y1="587.75" x2="260" y2="587.75" stroke="#ff6000" stroke-width="4.3" stroke-dasharray="7.6 3.75"/>
<text x="267.11" y="595.3" textLength="52.90" lengthAdjust="spacingAndGlyphs">450Hz</text>
<line x1="347.7" y1="587.75" x2="378.2" y2="587.75" stroke="#cc0012" stroke-width="4.5" stroke-dasharray="7.4 3.8 2.2 3.4"/>
<text x="384.94" y="594.45" textLength="53.39" lengthAdjust="spacingAndGlyphs">700Hz</text>
</svg>
</body></html>
